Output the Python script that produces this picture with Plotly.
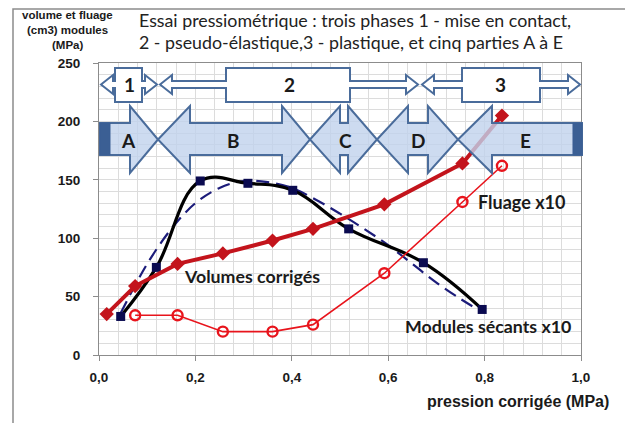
import plotly.graph_objects as go

# ---------------- data ----------------
pression_vol = [0.016, 0.075, 0.163, 0.257, 0.36, 0.444, 0.592, 0.754, 0.836]
volumes = [35, 59, 78, 87, 98, 108, 129, 164, 205]

pression_flu = [0.075, 0.163, 0.257, 0.36, 0.444, 0.592, 0.754, 0.836]
fluage_x10 = [34, 34, 20, 20, 26, 70, 131, 162]

pression_mod = [0.045, 0.119, 0.21, 0.309, 0.402, 0.518, 0.673, 0.795]
modules_x10 = [33, 75, 149, 147, 141, 108, 79, 39]

# dashed trend curve of the moduli, read point by point
trend_x = [0.045, 0.10, 0.15, 0.20, 0.25, 0.30, 0.35, 0.40, 0.45, 0.50, 0.55, 0.60, 0.65, 0.70, 0.75, 0.79]
trend_y = [36, 78, 108, 130, 143, 149, 148, 143, 133, 121, 108, 94, 78, 62, 48, 38]

x_ticks = [0.0, 0.2, 0.4, 0.6, 0.8, 1.0]
y_ticks = [0, 50, 100, 150, 200, 250]

phase_labels = ["1", "2", "3"]
part_labels = ["A", "B", "C", "D", "E"]

# ---------------- layout geometry (screen pixels of the reference) ----------------
OFF = 8  # page body margin
W, H = 633 - OFF, 423 - OFF
L, R, T, B = 99, 581, 63, 355


def px(x, y):
    return ((x - L) / (R - L), (B - y) / (B - T))


def path(points):
    s = ""
    for i, (x, y) in enumerate(points):
        u, v = px(x, y)
        s += ("M" if i == 0 else "L") + f"{u:.5f},{v:.5f} "
    return s + "Z"


fig = go.Figure()

fig.add_trace(go.Scatter(
    x=trend_x, y=trend_y, mode="lines", line=dict(color="#1c1c7a", width=2.2, dash="13px,7px"),
    line_shape="spline", hoverinfo="skip", showlegend=False))
fig.add_trace(go.Scatter(
    x=pression_mod, y=modules_x10, mode="lines", line=dict(color="#000000", width=3.2, shape="spline", smoothing=1.15),
    showlegend=False))
fig.add_trace(go.Scatter(
    x=pression_mod, y=modules_x10, mode="markers",
    marker=dict(symbol="square", size=9, color="#0a0a50"), showlegend=False))
fig.add_trace(go.Scatter(
    x=pression_flu, y=fluage_x10, mode="lines+markers", line=dict(color="#e8141c", width=1.6),
    marker=dict(symbol="circle-open", size=10, color="#e8141c", line=dict(width=2.4)), showlegend=False))
fig.add_trace(go.Scatter(
    x=pression_vol, y=volumes, mode="lines+markers", line=dict(color="#c3141c", width=4),
    marker=dict(symbol="diamond", size=11, color="#c3141c"), showlegend=False))

shapes = []
blue = "#4a6c9b"

# outer frame
shapes.append(dict(type="path", xref="paper", yref="paper",
                   path=path([(13, 9), (630, 9), (630, 440), (13, 440)]),
                   line=dict(color="#8c8c8c", width=1.5), fillcolor="rgba(0,0,0,0)", layer="below"))

# top row: phases 1, 2, 3 (double arrows with central box)
phases = [(101, 115, 142, 157), (160, 226, 350, 418), (422, 462, 540, 580)]
for xl, b0, b1, xr in phases:
    h = 12
    pts = [(xl, 84.5), (xl + h, 75), (xl + h, 81), (b0, 81), (b0, 68), (b1, 68), (b1, 81),
           (xr - h, 81), (xr - h, 75), (xr, 84.5), (xr - h, 94), (xr - h, 88), (b1, 88),
           (b1, 102), (b0, 102), (b0, 88), (xl + h, 88), (xl + h, 94)]
    shapes.append(dict(type="path", xref="paper", yref="paper", path=path(pts),
                       line=dict(color=blue, width=2), fillcolor="white", layer="above"))

# bottom row: parts A to E
yc, bt, bb, ht, hb = 139.5, 123, 155, 106, 173
partsA = [(100, bt), (130, bt), (130, ht), (158, yc), (130, hb), (130, bb), (100, bb)]
partsE = [(458, yc), (492, ht), (492, bt), (582, bt), (582, bb), (492, bb), (492, hb)]


def dbl(tl, bl, br, tr):
    return [(tl, yc), (bl, ht), (bl, bt), (br, bt), (br, ht), (tr, yc), (br, hb), (br, bb), (bl, bb), (bl, hb)]


parts = [partsA, dbl(158, 190, 282, 310), dbl(310, 340, 348, 377), dbl(377, 408, 428, 458), partsE]
for p in parts:
    shapes.append(dict(type="path", xref="paper", yref="paper", path=path(p),
                       line=dict(color=blue, width=2), fillcolor="rgba(192,210,236,0.8)", layer="above"))
# dark caps
for x0, x1 in [(100, 110), (573, 582)]:
    shapes.append(dict(type="path", xref="paper", yref="paper",
                       path=path([(x0, bt), (x1, bt), (x1, bb), (x0, bb)]),
                       line=dict(color="#3b5f94", width=1), fillcolor="#3b5f94", layer="above"))

annotations = []


def txt(text, x, y, size, anchor="center", bold=True, family="Lato", color="#1a1a1a"):
    u, v = px(x, y)
    annotations.append(dict(text=text, x=u, y=v, xref="paper", yref="paper", xanchor=anchor,
                            yanchor="middle", showarrow=False,
                            font=dict(family=family, size=size, color=color,
                                      weight="bold" if bold else "normal")))


for lab, x in zip(phase_labels, [129, 289, 500]):
    txt(lab, x, 85, 19)
for lab, x in zip(part_labels, [128, 233, 345, 418, 525]):
    txt(lab, x, 140, 19)

txt("Essai pressiométrique : trois phases 1 - mise en contact,", 137, 20, 17.8, anchor="left", bold=False, color="#222")
txt("2 - pseudo-élastique,3 - plastique, et cinq parties A à E", 137, 42, 17.8, anchor="left", bold=False, color="#222")

txt("volume et fluage", 67, 15, 11.5, family="Liberation Sans")
txt("(cm3) modules", 67, 30, 11.5, family="Liberation Sans")
txt("(MPa)", 67, 45, 11.5, family="Liberation Sans")

txt("Volumes corrigés", 252, 276, 17.8)
txt("Fluage x10", 521, 202, 18)
txt("Modules sécants x10", 488, 326, 17.8)

txt("pression corrigée (MPa)", 611, 401, 16, anchor="right", family="Liberation Sans")

grid = "#dcdcdc"
fig.update_layout(
    width=W, height=H,
    margin=dict(l=L - OFF, r=W - (R - OFF), t=T - OFF, b=H - (B - OFF), pad=0),
    paper_bgcolor="white", plot_bgcolor="white",
    separators=", ",
    shapes=shapes, annotations=annotations,
    xaxis=dict(range=[0, 1.0], tickvals=x_ticks, tickformat=".1f", showgrid=True, gridcolor=grid,
               minor=dict(dtick=0.04, showgrid=True, gridcolor=grid, ticks=""),
               showline=True, linecolor="#8c8c8c", linewidth=1.2, mirror=True,
               ticks="outside", ticklen=5, tickcolor="#8c8c8c", zeroline=False,
               tickfont=dict(family="Liberation Sans", size=13.5, color="#1a1a1a", weight="bold"),
               ticklabelstandoff=5),
    yaxis=dict(range=[0, 250], tickvals=y_ticks, showgrid=True, gridcolor=grid,
               minor=dict(dtick=10, showgrid=True, gridcolor=grid, ticks=""),
               showline=True, linecolor="#8c8c8c", linewidth=1.2, mirror=True,
               ticks="outside", ticklen=5, tickcolor="#8c8c8c", zeroline=False,
               tickfont=dict(family="Liberation Sans", size=13.5, color="#1a1a1a", weight="bold"),
               ticklabelstandoff=10),
    showlegend=False,
)

fig.write_html("out.html")
